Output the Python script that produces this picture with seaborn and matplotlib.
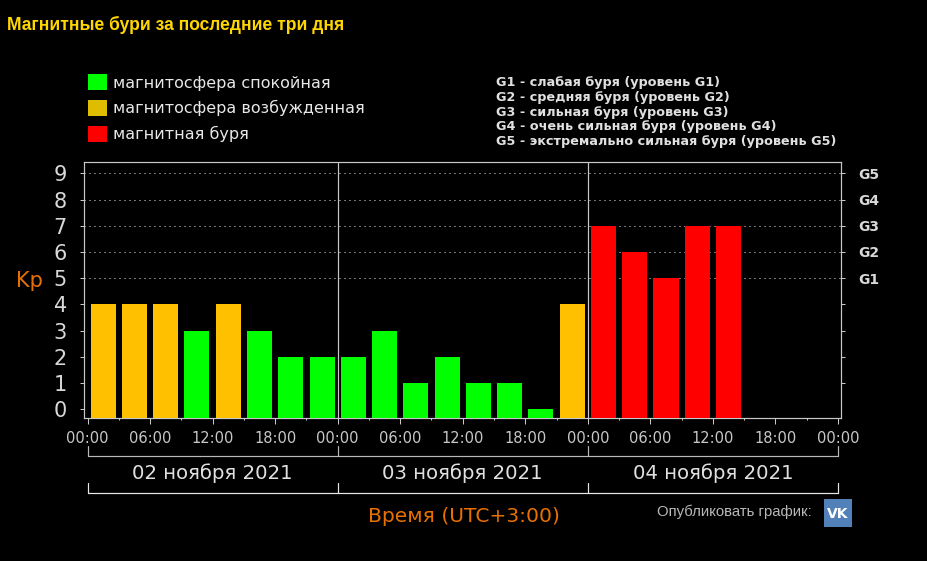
import matplotlib
matplotlib.use("Agg")
import matplotlib.pyplot as plt
from matplotlib.patches import Patch, Rectangle
from matplotlib.transforms import blended_transform_factory
import pandas as pd
import seaborn as sns

# ---- data ----
hours = [1.5 + 3 * i for i in range(21)]
kp_values = [4, 4, 4, 3, 4, 3, 2, 2,
             2, 3, 1, 2, 1, 1, 0, 4,
             7, 6, 5, 7, 7]
levels = ["quiet" if v < 4 else ("active" if v == 4 else "storm") for v in kp_values]
level_names = ["quiet", "active", "storm"]
legend_labels = ["магнитосфера спокойная", "магнитосфера возбужденная", "магнитная буря"]
g_lines = ["G1 - слабая буря (уровень G1)",
           "G2 - средняя буря (уровень G2)",
           "G3 - сильная буря (уровень G3)",
           "G4 - очень сильная буря (уровень G4)",
           "G5 - экстремально сильная буря (уровень G5)"]
g_ticks = [5, 6, 7, 8, 9]
g_labels = ["G1", "G2", "G3", "G4", "G5"]
hour_ticks = list(range(0, 73, 6))
hour_labels = ["00:00", "06:00", "12:00", "18:00"] * 3 + ["00:00"]
day_edges = [0, 24, 48, 72]
day_labels = ["02 ноября 2021", "03 ноября 2021", "04 ноября 2021"]

# ---- style ----
W, H = 927, 561
BASE = -0.33
GREY = "#c8c8c8"
px = 0.72
palette = {"quiet": "#00ff00", "active": "#ffc000", "storm": "#ff0000"}
sns.set_style("dark", {"axes.facecolor": "black", "figure.facecolor": "black"})
plt.rcParams["font.family"] = ["DejaVu Sans"]

fig = plt.figure(figsize=(W / 100, H / 100), dpi=100, facecolor="black")
ax = fig.add_axes([84 / W, 1 - 418 / H, 757 / W, 256 / H], facecolor="black")

df = pd.DataFrame({"hour": hours, "kp": kp_values, "level": levels})
df["height"] = df["kp"] - BASE
sns.barplot(data=df, x="hour", y="height", hue="level", hue_order=level_names,
            palette=palette, native_scale=True, dodge=False, width=0.8,
            bottom=BASE, saturation=1, legend=False, ax=ax, zorder=3, linewidth=0)

ax.set_xlim(-0.336, 72.29)
ax.set_ylim(BASE, 9.43)
ax.set_xlabel("")
ax.set_ylabel("")

# grid
for v in range(5, 10):
    ax.axhline(v, color="#e8e8e8", lw=1 * px, ls=(0, (1, 4)), zorder=1)
for d in day_edges[1:3]:
    ax.axvline(d, color=GREY, lw=1.2 * px, zorder=4)

for s in ax.spines.values():
    s.set_color(GREY)
    s.set_linewidth(1.2 * px)

# ticks
ax.set_yticks(range(0, 10))
ax.set_yticklabels([str(i) for i in range(10)], fontsize=15, color="#d8d8d8")
ax.tick_params(axis="y", left=True, length=3 * px * 1.3, width=px, color=GREY, pad=9.5)
ax.set_xticks(hour_ticks)
ax.set_xticklabels(hour_labels, fontsize=10.5, color=GREY)
ax.set_xticks(range(0, 73, 3), minor=True)
ax.tick_params(axis="x", which="major", bottom=True, length=5 * px * 1.2, width=px, color=GREY, pad=5)
ax.tick_params(axis="x", which="minor", bottom=True, length=2.5 * px, width=px, color=GREY)

ax2 = ax.twinx()
ax2.set_ylim(ax.get_ylim())
ax2.set_yticks(range(1, 10))
ax2.set_yticklabels(["" if i not in g_ticks else g_labels[g_ticks.index(i)] for i in range(1, 10)],
                    fontsize=10, color="#d8d8d8", fontweight="bold")
ax2.tick_params(axis="y", right=True, length=4 * px, width=px, color=GREY, pad=9.5)
ax2.grid(False)
for s in ax2.spines.values():
    s.set_visible(False)

# day brackets
tr = blended_transform_factory(ax.transData, ax.transAxes)
def yfrac(y):
    return (418 - y) / 256
for top, bot, col in [(446, 456, "#b8b8b8"), (483, 493, "#e8e8e8")]:
    ax.plot([0, 72], [yfrac(bot)] * 2, color=col, lw=1.2 * px, transform=tr, clip_on=False)
    for d in day_edges:
        ax.plot([d, d], [yfrac(top), yfrac(bot)], color=col, lw=1.2 * px, transform=tr, clip_on=False)
for i, lab in enumerate(day_labels):
    ax.text(day_edges[i] + 12, yfrac(473), lab, transform=tr, ha="center", va="center",
            fontsize=14.2, color="#e0e0e0")

def T(x, y, s, **kw):
    return fig.text(x / W, 1 - y / H, s, **kw)

T(7, 25, "Магнитные бури за последние три дня", family="Liberation Sans", fontweight="bold",
  fontsize=12.65, color="#ffd700", va="center")
T(464, 517, "Время (UTC+3:00)", fontsize=14.6, color="#e87000", ha="center", va="center")
T(29, 281, "Kp", fontsize=15, color="#e87000", ha="center", va="center")
T(812, 512, "Опубликовать график:", family="Liberation Sans", fontsize=10.7, color="#b8b8b8",
  ha="right", va="center")

# colour legend
legend_colors = ["#00ff00", "#e0bc00", "#ff0000"]
handles = [Patch(facecolor=c, edgecolor="none") for c in legend_colors]
leg = fig.legend(handles, legend_labels, loc="upper left", bbox_to_anchor=(88 / W, 1 - 74 / H),
                 frameon=False, fontsize=11.5, labelcolor="#e8e8e8", borderpad=0, borderaxespad=0,
                 handlelength=1.19, handleheight=1.19, handletextpad=0.4, labelspacing=0.58)

for i, line in enumerate(g_lines):
    T(496, 82 + 15 * i, line, fontsize=9.15, color="#e0e0e0", va="center", fontweight="bold")

# publish icon
fig.add_artist(Rectangle((824 / W, 1 - 527 / H), 28 / W, 28 / H, transform=fig.transFigure,
                         facecolor="#5181b8", edgecolor="none"))
T(838, 513.5, "VK", fontsize=10, color="white", fontweight="bold", ha="center", va="center")

fig.savefig("out.png", dpi=100, facecolor="black")
